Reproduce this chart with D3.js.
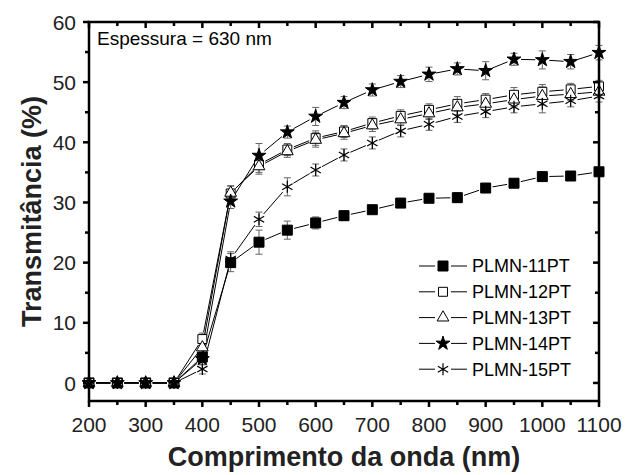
<!DOCTYPE html>
<html>
<head>
<meta charset="utf-8">
<script src="https://cdn.jsdelivr.net/npm/d3@7"></script>
<style>
  body { margin: 0; background: #fff; }
  svg { display: block; font-family: "Liberation Sans", Arial, sans-serif; }
</style>
</head>
<body>
<svg id="chart" width="641" height="475"></svg>
<script>
// wavelengths (nm)
const wavelengths = [200, 250, 300, 350, 400, 450, 500, 550, 600, 650, 700, 750, 800, 850, 900, 950, 1000, 1050, 1100];

// transmittance (%) per sample
const plmn11 = [0, 0, 0, 0, 4.3, 20.0, 23.4, 25.4, 26.6, 27.8, 28.8, 29.9, 30.7, 30.8, 32.4, 33.2, 34.3, 34.4, 35.1];
const plmn12 = [0, 0, 0, 0, 7.3, 31.5, 36.3, 38.8, 40.7, 41.8, 43.2, 44.4, 45.4, 46.4, 47.1, 47.9, 48.4, 48.8, 49.3];
const plmn13 = [0, 0, 0, 0, 5.9, 31.6, 36.0, 38.5, 40.4, 41.5, 42.8, 43.8, 44.8, 45.8, 46.4, 47.1, 47.7, 48.0, 48.4];
const plmn14 = [0, 0, 0, 0, 4.0, 30.2, 37.8, 41.7, 44.3, 46.6, 48.7, 50.1, 51.3, 52.2, 51.9, 53.8, 53.7, 53.4, 54.9];
const plmn15 = [0, 0, 0, 0, 2.3, 20.6, 27.2, 32.6, 35.4, 37.9, 39.9, 41.9, 43.0, 44.3, 45.1, 45.9, 46.4, 46.9, 47.7];

// error bar half-widths (%)
const err11 = [0, 0, 0, 0, 0.8, 1.5, 2.0, 1.5, 1.0, 0.8, 0.6, 0.6, 0.6, 0.8, 0.6, 0.6, 0.6, 0.6, 0.6];
const err12 = [0, 0, 0, 0, 1.0, 1.2, 1.3, 1.0, 1.2, 1.0, 1.0, 1.0, 1.0, 1.2, 1.0, 1.2, 1.2, 1.0, 1.0];
const err13 = [0, 0, 0, 0, 1.0, 1.2, 1.3, 1.0, 1.2, 1.0, 1.0, 1.0, 1.0, 1.2, 1.0, 1.2, 1.5, 1.0, 1.0];
const err14 = [0, 0, 0, 0, 1.0, 1.2, 2.0, 1.0, 1.5, 1.0, 1.0, 1.0, 1.2, 1.0, 1.5, 1.0, 1.5, 1.2, 1.2];
const err15 = [0, 0, 0, 0, 0.8, 1.2, 1.2, 1.5, 1.0, 1.0, 1.0, 1.0, 1.0, 1.0, 1.0, 1.0, 1.5, 1.0, 1.0];

const seriesNames = ['PLMN-11PT', 'PLMN-12PT', 'PLMN-13PT', 'PLMN-14PT', 'PLMN-15PT'];

const xTicks = [200, 300, 400, 500, 600, 700, 800, 900, 1000, 1100];
const xMinor = [250, 350, 450, 550, 650, 750, 850, 950, 1050];
const yTicks = [0, 10, 20, 30, 40, 50, 60];
const yMinor = [5, 15, 25, 35, 45, 55];

const series = [
  { name: seriesNames[0], values: plmn11, errs: err11, type: d3.symbolSquare, size: 100, fill: '#000' },
  { name: seriesNames[1], values: plmn12, errs: err12, type: d3.symbolSquare, size: 80, fill: '#fff' },
  { name: seriesNames[2], values: plmn13, errs: err13, type: d3.symbolTriangle, size: 60, fill: '#fff' },
  { name: seriesNames[3], values: plmn14, errs: err14, type: d3.symbolStar, size: 60, fill: '#000' },
  { name: seriesNames[4], values: plmn15, errs: err15, type: d3.symbolAsterisk, size: 100, fill: 'none' }
];

const svg = d3.select('#chart');
const mLeft = 89, mRight = 599, mTop = 22, mBottom = 401;

const x = d3.scaleLinear().domain([200, 1100]).range([mLeft, mRight]);
const y = d3.scaleLinear().domain([-3, 60]).range([mBottom, mTop]);

const plot = svg.append('g');

// error bars
series.forEach(s => {
  const g = plot.append('g').attr('stroke', '#666').attr('stroke-width', 1);
  s.values.forEach((v, i) => {
    const e = s.errs[i];
    if (!e) return;
    const cx = x(wavelengths[i]);
    g.append('line').attr('x1', cx).attr('x2', cx).attr('y1', y(v - e)).attr('y2', y(v + e));
    g.append('line').attr('x1', cx - 3.5).attr('x2', cx + 3.5).attr('y1', y(v - e)).attr('y2', y(v - e));
    g.append('line').attr('x1', cx - 3.5).attr('x2', cx + 3.5).attr('y1', y(v + e)).attr('y2', y(v + e));
  });
});

// connecting segments with a gap around each marker
const gap = 7;
series.forEach(s => {
  const pts = s.values.map((v, i) => [x(wavelengths[i]), y(v)]);
  const g = plot.append('g').attr('stroke', '#000').attr('stroke-width', 1);
  for (let i = 0; i < pts.length - 1; i++) {
    const [x1, y1] = pts[i], [x2, y2] = pts[i + 1];
    const len = Math.hypot(x2 - x1, y2 - y1);
    if (len <= gap * 2) continue;
    const ux = (x2 - x1) / len, uy = (y2 - y1) / len;
    g.append('line')
      .attr('x1', x1 + ux * gap).attr('y1', y1 + uy * gap)
      .attr('x2', x2 - ux * gap).attr('y2', y2 - uy * gap);
  }
});

// markers
series.forEach(s => {
  plot.append('g').selectAll('path')
    .data(s.values)
    .join('path')
    .attr('transform', (d, i) => `translate(${x(wavelengths[i])},${y(d)})`)
    .attr('d', d3.symbol().type(s.type).size(s.size))
    .attr('fill', s.fill)
    .attr('stroke', '#000')
    .attr('stroke-width', s.type === d3.symbolAsterisk ? 1.2 : 1);
});

// frame + ticks
const axisG = svg.append('g').attr('stroke', '#000').attr('stroke-width', 2.5);
axisG.append('rect')
  .attr('x', mLeft).attr('y', mTop)
  .attr('width', mRight - mLeft).attr('height', mBottom - mTop)
  .attr('fill', 'none');

const tickLen = (major) => major ? 6 : 4;
xTicks.map(t => [t, true]).concat(xMinor.map(t => [t, false])).forEach(([t, major]) => {
  const px = x(t);
  axisG.append('line').attr('x1', px).attr('x2', px).attr('y1', mBottom).attr('y2', mBottom + tickLen(major));
  axisG.append('line').attr('x1', px).attr('x2', px).attr('y1', mTop).attr('y2', mTop + tickLen(major));
});
yTicks.map(t => [t, true]).concat(yMinor.map(t => [t, false])).forEach(([t, major]) => {
  const py = y(t);
  axisG.append('line').attr('x1', mLeft).attr('x2', mLeft - tickLen(major)).attr('y1', py).attr('y2', py);
  axisG.append('line').attr('x1', mRight).attr('x2', mRight - tickLen(major)).attr('y1', py).attr('y2', py);
});

// tick labels
svg.append('g').selectAll('text')
  .data(xTicks)
  .join('text')
  .attr('x', d => x(d))
  .attr('y', 432)
  .attr('text-anchor', 'middle')
  .attr('font-size', 21)
  .attr('fill', '#222')
  .text(d => d);

svg.append('g').selectAll('text')
  .data(yTicks)
  .join('text')
  .attr('x', 76)
  .attr('y', d => y(d))
  .attr('dy', '0.36em')
  .attr('text-anchor', 'end')
  .attr('font-size', 21)
  .attr('fill', '#222')
  .text(d => d);

// axis titles
svg.append('text')
  .attr('x', (mLeft + mRight) / 2)
  .attr('y', 466)
  .attr('text-anchor', 'middle')
  .attr('font-size', 27)
  .attr('font-weight', 'bold')
  .attr('fill', '#222')
  .text('Comprimento da onda (nm)');

svg.append('text')
  .attr('transform', `translate(41,${(mTop + mBottom) / 2}) rotate(-90)`)
  .attr('text-anchor', 'middle')
  .attr('font-size', 27)
  .attr('font-weight', 'bold')
  .attr('fill', '#222')
  .text('Transmitância (%)');

// annotation
svg.append('text')
  .attr('x', 97)
  .attr('y', 45)
  .attr('font-size', 19)
  .attr('fill', '#000')
  .text('Espessura = 630 nm');

// legend
const legend = svg.append('g');
series.forEach((s, i) => {
  const ly = 266 + i * 25.8;
  const g = legend.append('g');
  g.append('line').attr('x1', 419).attr('x2', 435).attr('y1', ly).attr('y2', ly).attr('stroke', '#000').attr('stroke-width', 1);
  g.append('line').attr('x1', 451).attr('x2', 467).attr('y1', ly).attr('y2', ly).attr('stroke', '#000').attr('stroke-width', 1);
  g.append('path')
    .attr('transform', `translate(443,${ly})`)
    .attr('d', d3.symbol().type(s.type).size(s.size))
    .attr('fill', s.fill)
    .attr('stroke', '#000')
    .attr('stroke-width', s.type === d3.symbolAsterisk ? 1.2 : 1);
  g.append('text')
    .attr('x', 472)
    .attr('y', ly)
    .attr('dy', '0.36em')
    .attr('font-size', 18)
    .attr('fill', '#000')
    .text(s.name);
});
</script>
</body>
</html>
